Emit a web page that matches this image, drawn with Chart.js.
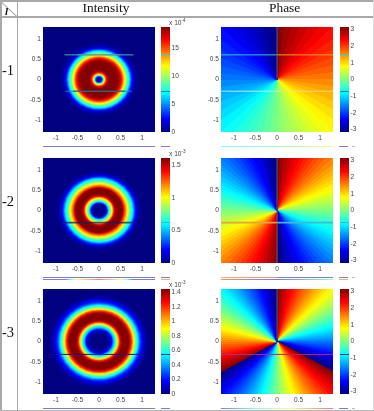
<!DOCTYPE html>
<html>
<head>
<meta charset="utf-8">
<script src="https://cdn.jsdelivr.net/npm/chart.js@4"></script>
<style>
html, body { margin: 0; background: #fff; }
#page { position: absolute; left: 0; top: 0; width: 374px; height: 411px; overflow: hidden; filter: blur(0.35px); }
#page canvas, #page div { position: absolute; }
.rule { background: #a8a8a8; }
.serif { font-family: "Liberation Serif", serif; color: #111; white-space: nowrap; }
.scale { font: 6.6px "Liberation Sans", sans-serif; color: #444; white-space: nowrap; }
.scale sup { font-size: 4.6px; line-height: 0; }
</style>
</head>
<body>
<div id="page"></div>
<script>
// radial intensity profile, one value per ring, ring spacing 0.025 from the centre
const ringStep = 0.025;
const intensity1 = [0, 0.2, 1.3, 3.7, 7.5, 11.6, 14.1, 16.1, 17.6, 18.4, 18.7, 18.7, 18.7, 18.7, 18.7, 18.7, 18.6, 18.6, 18.4, 18.0, 17.2, 16.1, 14.8, 13.1, 11.6, 10.3, 9.0, 7.9, 7.0, 5.3, 3.6, 2.3, 1.5, 1.0, 0.6, 0.3, 0.15, 0.05, 0];
const intensity2 = [0, 0, 0, 0.002, 0.005, 0.01, 0.08, 0.16, 0.32, 0.56, 0.72, 0.87, 1.0, 1.18, 1.42, 1.53, 1.59, 1.61, 1.61, 1.61, 1.61, 1.61, 1.61, 1.41, 1.29, 1.18, 1.06, 0.97, 0.85, 0.74, 0.66, 0.61, 0.48, 0.35, 0.23, 0.16, 0.11, 0.06, 0.03, 0.016, 0];
const intensity3 = [0, 0, 0, 0, 0, 0, 0, 0, 0.01, 0.04, 0.09, 0.13, 0.18, 0.36, 0.48, 0.56, 0.74, 0.84, 1.0, 1.2, 1.32, 1.4, 1.44, 1.44, 1.44, 1.44, 1.44, 1.44, 1.42, 1.32, 1.22, 1.1, 0.94, 0.81, 0.72, 0.62, 0.54, 0.42, 0.32, 0.23, 0.19, 0.15, 0.1, 0.065, 0.04, 0.02, 0];
const intensityMax = [18.75, 1.61, 1.447];

// phase of each wedge over one turn of the charge, clockwise from the top
const phaseSweep = [3.08, 2.95, 2.81, 2.68, 2.55, 2.42, 2.29, 2.16, 2.03, 1.9, 1.77, 1.64, 1.51, 1.37, 1.24, 1.11, 0.98, 0.85, 0.72, 0.59, 0.46, 0.33, 0.2, 0.07, -0.07, -0.2, -0.33, -0.46, -0.59, -0.72, -0.85, -0.98, -1.11, -1.24, -1.37, -1.51, -1.64, -1.77, -1.9, -2.03, -2.16, -2.29, -2.42, -2.55, -2.68, -2.81, -2.95, -3.08];
const charges = [1, 2, 3];

const rowLabels = ['-1', '-2', '-3'];
const columnLabels = ['Intensity', 'Phase'];
const axisTicks = [-1, -0.5, 0, 0.5, 1];
const intensityTicks = [[0, 5, 10, 15], [0, 0.5, 1, 1.5], [0, 0.2, 0.4, 0.6, 0.8, 1, 1.2, 1.4]];
const phaseTicks = [-3, -2, -1, 0, 1, 2, 3];
const exponents = ['-4', '-3', '-3'];

// stray scan lines: y, x from, x to, colour
const intensityScars = [
    [[0.61, -0.8, 0.8, '#35b8b8'], [0.61, -0.5, 0.5, '#b5502a'], [-0.29, -0.78, 0.76, '#1f8a9a'], [-0.29, -0.6, 0.6, '#3a1a50']],
    [[-0.3, -0.85, 0.85, 'rgba(20,30,110,0.75)']],
    [[-0.32, -1.0, 1.0, '#101a80']],
];
const phaseScars = [
    [[0.61, -1.3, 0, '#30c8d8'], [0.61, 0, 1.3, '#f0a020'], [-0.29, -1.3, 0, '#a0f0f0'], [-0.29, 0, 1.3, '#f8e070']],
    [[-0.3, -1.3, 0, '#e8a040'], [-0.3, 0, 1.3, '#40b8d8']],
    [[-0.32, -1.3, 0, '#a03090'], [-0.32, 0, 1.3, '#c02060']],
];
const scarWidths = [1, 1.6, 1];
const seams = [[0, 1.3], [-1.3, 1.3], [0, 1.3]];

const jetStops = [[0, 0, 0, 0.5], [0.125, 0, 0, 1], [0.375, 0, 1, 1], [0.625, 1, 1, 0], [0.875, 1, 0, 0], [1, 0.5, 0, 0]];
function jet(f) {
    f = Math.min(Math.max(f, 0), 1);
    let i = 1;
    while (i < jetStops.length - 1 && f > jetStops[i][0]) i++;
    const a = jetStops[i - 1], b = jetStops[i];
    const t = (f - a[0]) / (b[0] - a[0]);
    const c = [1, 2, 3].map(k => Math.round(255 * (a[k] + (b[k] - a[k]) * t)));
    return `rgb(${c[0]},${c[1]},${c[2]})`;
}

const page = document.getElementById('page');
const panelW = 112, panelH = 105, limit = 1.3;
const rowTops = [27, 158, 289];
const pxPerUnit = panelW / (2 * limit);
const squash = panelH / panelW;
const tickFont = { family: '"Liberation Sans", sans-serif', size: 6.6 };

// big rings are meant to run past the plot, don't let them shrink it
Chart.registry.getController('bubble').prototype.getMaxOverflow = () => 0;

function addCanvas(x, y, w, h) {
    const c = document.createElement('canvas');
    c.width = w; c.height = h;
    c.style.left = x + 'px'; c.style.top = y + 'px';
    c.style.width = w + 'px'; c.style.height = h + 'px';
    page.appendChild(c);
    return c;
}

function addText(cls, html, x, y, extra) {
    const d = document.createElement('div');
    d.className = cls;
    d.innerHTML = html;
    d.style.left = x + 'px'; d.style.top = y + 'px';
    Object.assign(d.style, extra || {});
    page.appendChild(d);
    return d;
}

function addRule(x, y, w, h, bg) {
    const d = document.createElement('div');
    d.style.cssText = `left:${x}px;top:${y}px;width:${w}px;height:${h}px;background:${bg}`;
    page.appendChild(d);
}

// the plots are stretched wider than tall, so rings and wedges get squashed about the centre
const squashPlugin = {
    id: 'squash',
    beforeDatasetDraw(chart, args) {
        if (args.meta.type !== 'bubble' && args.meta.type !== 'pie') return;
        const a = chart.chartArea, ctx = chart.ctx;
        const cy = (a.top + a.bottom) / 2;
        ctx.save();
        ctx.beginPath();
        ctx.rect(a.left, a.top, a.width, a.height);
        ctx.clip();
        ctx.translate(0, cy);
        ctx.scale(1, squash);
        ctx.translate(0, -cy);
    },
    afterDatasetDraw(chart, args) {
        if (args.meta.type !== 'bubble' && args.meta.type !== 'pie') return;
        chart.ctx.restore();
    },
};

const backdropPlugin = {
    id: 'backdrop',
    beforeDatasetsDraw(chart, args, opts) {
        const a = chart.chartArea;
        chart.ctx.fillStyle = opts.color;
        chart.ctx.fillRect(a.left, a.top, a.width, a.height);
    },
};

function fixedTicks(values) {
    return axis => { axis.ticks = values.map(value => ({ value })); };
}

function fitAxis(s, size) {
    if (s.isHorizontal()) s.height = size; else s.width = size;
    s.paddingTop = s.paddingBottom = s.paddingLeft = s.paddingRight = 0;
}

function plotAxis(size) {
    return {
        type: 'linear', min: -limit, max: limit,
        grid: { display: false, drawTicks: false }, border: { display: false },
        afterBuildTicks: fixedTicks(axisTicks),
        afterFit: s => fitAxis(s, size),
        ticks: { autoSkip: false, maxRotation: 0, minRotation: 0, padding: 2, color: '#444', font: tickFont, callback: v => String(v) },
    };
}

function scarDatasets(scars, width) {
    return scars.map(s => ({
        type: 'line', order: 1, weight: 0, clip: 0,
        data: [{ x: s[1], y: s[0] }, { x: s[2], y: s[0] }],
        borderColor: s[3], borderWidth: width, pointRadius: 0,
    }));
}

function plotChart(x, rowTop, datasets, backdrop) {
    const canvas = addCanvas(x - 26, rowTop - 3, panelW + 29, panelH + 3 + 14);
    new Chart(canvas, {
        type: 'scatter',
        data: { datasets },
        options: {
            responsive: false, animation: false, events: [], devicePixelRatio: 1,
            layout: { padding: { top: 3, right: 3, left: 0, bottom: 0 } },
            scales: { x: plotAxis(14), y: plotAxis(26) },
            plugins: { legend: { display: false }, tooltip: { enabled: false }, backdrop: { color: backdrop } },
        },
        plugins: [backdropPlugin, squashPlugin],
    });
}

function colorbar(x, rowTop, lo, hi, ticks) {
    const canvas = addCanvas(x, rowTop - 5, 9 + 16, panelH + 10);
    new Chart(canvas, {
        type: 'bar',
        data: {
            labels: [''],
            datasets: [{
                data: [[lo, hi]], barPercentage: 1, categoryPercentage: 1, borderWidth: 0,
                backgroundColor(ctx) {
                    const a = ctx.chart.chartArea;
                    if (!a) return '#000';
                    const g = ctx.chart.ctx.createLinearGradient(0, a.bottom, 0, a.top);
                    jetStops.forEach(s => g.addColorStop(s[0], jet(s[0])));
                    return g;
                },
            }],
        },
        options: {
            responsive: false, animation: false, events: [], devicePixelRatio: 1,
            layout: { padding: { top: 5, bottom: 5, left: 0, right: 0 } },
            scales: {
                x: { display: false },
                y: {
                    position: 'right', min: lo, max: hi,
                    grid: { display: false, drawTicks: false }, border: { display: false },
                    afterBuildTicks: fixedTicks(ticks),
                    afterFit: s => fitAxis(s, 16),
                    ticks: { autoSkip: false, padding: 1.5, color: '#444', font: tickFont, callback: v => String(v) },
                },
            },
            plugins: { legend: { display: false }, tooltip: { enabled: false } },
        },
    });
}

rowTops.forEach((top, row) => {
    const profile = [intensity1, intensity2, intensity3][row];
    const rings = profile.map((v, i) => ({ x: 0, y: 0, r: (i + 0.5) * ringStep * pxPerUnit, v })).reverse();
    plotChart(43, top, [
        {
            type: 'bubble', order: 2, clip: false, data: rings, borderWidth: 0,
            backgroundColor: ctx => jet(rings[ctx.dataIndex].v / intensityMax[row]),
        },
        ...scarDatasets(intensityScars[row], scarWidths[row]),
    ], jet(0));
    colorbar(161, top, 0, intensityMax[row], intensityTicks[row]);

    const wedges = Array(charges[row]).fill(phaseSweep).flat();
    plotChart(221, top, [
        {
            type: 'pie', order: 2, clip: false, radius: '160%', data: wedges.map(() => 1),
            backgroundColor: wedges.map(p => jet((p + Math.PI) / (2 * Math.PI))),
            borderColor: wedges.map(p => jet((p + Math.PI) / (2 * Math.PI))),
            borderWidth: 1,
        },
        {
            type: 'line', order: 1, weight: 0, clip: 0,
            data: [{ x: 0, y: seams[row][0] }, { x: 0, y: seams[row][1] }],
            borderColor: 'rgba(120,120,120,0.75)', borderWidth: 1, pointRadius: 0,
        },
        ...scarDatasets(phaseScars[row], scarWidths[row]),
    ], '#fff');
    colorbar(339.5, top, -Math.PI, Math.PI, phaseTicks);

    addText('scale', `x 10<sup>${exponents[row]}</sup>`, 169, top - 8);
});

// table frame
addRule(0, 0, 374, 1.5, '#a8a8a8');
addRule(0, 16, 374, 1.5, '#a8a8a8');
addRule(0, 0, 1.5, 411, '#a8a8a8');
addRule(16.5, 0, 1.5, 411, '#a8a8a8');
addRule(372.5, 0, 1.5, 411, '#d8d8d8');
addRule(0, 409.5, 374, 1.5, '#b8b8b8');
addText('rule', '', 1, 1, { width: '23px', height: '1px', transform: 'rotate(43deg)', transformOrigin: '0 0' });
addText('serif', 'l', 5, 5, { fontSize: '11px', fontStyle: 'italic', fontWeight: 'bold' });

addText('serif', columnLabels[0], 82.5, 0, { fontSize: '13.4px' });
addText('serif', columnLabels[1], 269, 0, { fontSize: '13.4px' });
[62, 193, 324].forEach((y, i) => addText('serif', rowLabels[i], 2, y, { fontSize: '14.5px' }));

// leftovers from the table rows: edge slices under each row and stray lines through the colour bars
const edge = '#7d7dd8';
const strips = [
    [43, 146, 112, edge], [161, 146, 9, edge], [221, 146, 112, 'linear-gradient(90deg,#7ff,#9fb,#ff7)'], [339, 146, 9, edge], [352, 146, 3, '#bbb'],
    [43, 277, 112, edge], [161, 277, 9, edge], [221, 277, 112, `linear-gradient(90deg,#ffb070,#f88 50%,${edge} 50%)`], [339, 277, 9, edge], [352, 277, 3, '#bbb'],
    [43, 279, 112, `linear-gradient(90deg,${edge} 20%,#7ff 25%,#ff7 30%,#f77 50%,#ff7 70%,#7ff 75%,${edge} 80%)`], [161, 279, 9, '#f0b070'],
    [221, 279, 112, `linear-gradient(90deg,#ff9060,${edge} 50%,#9fb)`], [339, 279, 9, '#f0b070'],
    [43, 408, 112, edge], [161, 408, 9, edge], [221, 408, 112, `linear-gradient(90deg,${edge},#7ff 30%,#ff7 60%,#f77)`], [339, 408, 9, edge], [352, 408, 3, '#bbb'],
    [161, 54, 9, '#3cc'], [161, 91, 9, '#1a8a8a'], [339.5, 54, 9, '#3cc'], [339.5, 91, 9, '#1a8a8a'],
    [161, 222, 9, '#3bb'], [339.5, 222, 9, '#3bb'], [161, 354, 9, '#138'], [339.5, 354, 9, '#138'],
];
strips.forEach(s => addRule(s[0], s[1], s[2], 1, s[3]));
</script>
</body>
</html>
